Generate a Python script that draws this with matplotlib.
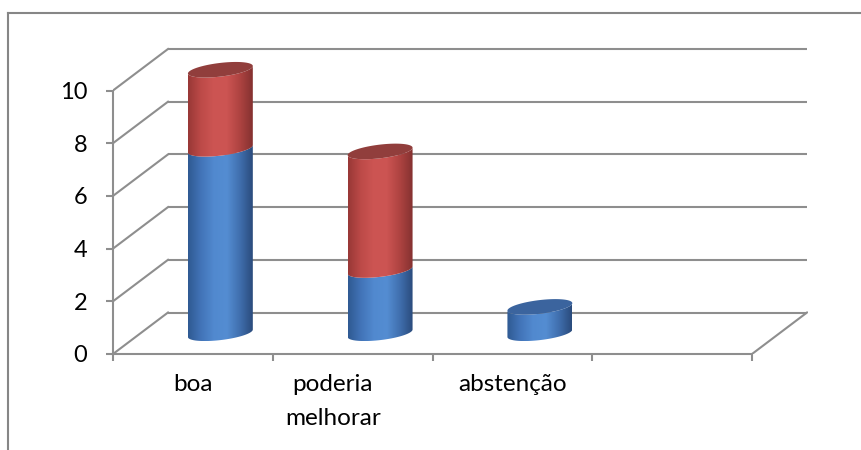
import numpy as np
import matplotlib
matplotlib.use("Agg")
import matplotlib.pyplot as plt
from matplotlib.colors import LinearSegmentedColormap
from matplotlib.patches import Polygon
from matplotlib.lines import Line2D

# data
categories = ["boa", "poderia\nmelhorar", "abstenção", ""]
blue_values = [7, 2.4, 1, 0]
red_values = [3, 4.5, 0, 0]
y_ticks = [0, 2, 4, 6, 8, 10]

W, H, DPI = 861, 450, 100
PX_X, PX_Y = 159.75, 26.35          # pixels per category / per value unit
DEPTH_X, DEPTH_Y = 55 / PX_X, 41.5 / PX_Y   # oblique floor depth (data units)
RAD_A, RAD_S, RAD_H = 28.5 / PX_X, 15.5 / PX_X, 7.8 / PX_Y  # cylinder section

GRID = "#8e8e8e"
blue_cmap = LinearSegmentedColormap.from_list(
    "blue", ["#2f5a92", "#4274b8", "#5189cf", "#548dd2", "#406fae", "#2a4b7c"])
red_cmap = LinearSegmentedColormap.from_list(
    "red", ["#983836", "#bd4a48", "#cd5553", "#cc5452", "#ae4341", "#843130"])
CAP = {"blue": "#3b649e", "red": "#913e3c"}

plt.rcParams["font.family"] = ["Lato", "DejaVu Sans"]

fig = plt.figure(figsize=(W / DPI, H / DPI), dpi=DPI)
ax = fig.add_axes([113 / W, (H - 354) / H, 695 / W, 308 / H])
ax.set_facecolor("none")

n = len(categories)

# back wall + side wall gridlines
for v in y_ticks:
    ax.plot([DEPTH_X, n + DEPTH_X], [v + DEPTH_Y, v + DEPTH_Y], color=GRID,
            lw=1.5, zorder=1, solid_capstyle="butt")
    ax.plot([0, DEPTH_X], [v, v + DEPTH_Y], color=GRID, lw=1.5, zorder=1)
# right edge of the floor
ax.plot([n, n + DEPTH_X], [0, DEPTH_Y], color=GRID, lw=1.5, zorder=1)

t_r = np.arctan2(RAD_S, RAD_A)
half_w = np.hypot(RAD_A, RAD_S)


def arc(cx, cy, t0, t1, num=80):
    t = np.linspace(t0, t1, num)
    return np.column_stack([cx + RAD_A * np.cos(t) + RAD_S * np.sin(t),
                            cy + RAD_H * np.sin(t)])


def body(cx, y0, y1, cmap):
    pts = np.vstack([arc(cx, y0, t_r - np.pi, t_r), arc(cx, y1, t_r, t_r - np.pi)])
    poly = Polygon(pts, closed=True, facecolor="none", edgecolor="none")
    ax.add_patch(poly)
    grad = np.linspace(0, 1, 256)[None, :]
    im = ax.imshow(grad, cmap=cmap, aspect="auto", origin="lower", zorder=3,
                   extent=(cx - half_w, cx + half_w, y0 - RAD_H, y1 + RAD_H))
    im.set_clip_path(poly)


def cap(cx, y, color):
    ax.add_patch(Polygon(arc(cx, y, 0, 2 * np.pi, 120), closed=True,
                         facecolor=color, edgecolor="none", zorder=4))


for i, (b, r) in enumerate(zip(blue_values, red_values)):
    cx = i + 0.5 + DEPTH_X / 2
    base = DEPTH_Y / 2
    top_color = None
    if b > 0:
        body(cx, base, base + b, blue_cmap)
        top_color = "blue"
    if r > 0:
        body(cx, base + b, base + b + r, red_cmap)
        top_color = "red"
    if top_color:
        cap(cx, base + b + r, CAP[top_color])

ax.set_xlim(0, 695 / PX_X)
ax.set_ylim(0, 308 / PX_Y)

# axes lines
for side in ("top", "right"):
    ax.spines[side].set_visible(False)
for side in ("left", "bottom"):
    ax.spines[side].set_color(GRID)
    ax.spines[side].set_linewidth(1.5)
    ax.spines[side].set_zorder(2)
ax.spines["left"].set_bounds(0, max(y_ticks))
ax.spines["bottom"].set_bounds(0, n)

ax.set_yticks(y_ticks)
ax.set_yticklabels([str(v) for v in y_ticks], fontsize=17)
ax.set_xticks(range(n + 1))
ax.set_xticklabels([])
ax.tick_params(axis="both", length=5, width=1.5, color=GRID)
ax.tick_params(axis="y", pad=13.5)

label_shift = [0, -0.125, 0, 0]
for i, name in enumerate(categories):
    ax.text(i + 0.5 + label_shift[i], -0.75, name, ha="center", va="top",
            fontsize=17.5, linespacing=1.75, clip_on=False)

# chart area border (clipped at right / bottom in the original)
fig.add_artist(Line2D([7.5 / W, 7.5 / W], [0, (H - 13) / H], color="#868686", lw=1.5))
fig.add_artist(Line2D([7.5 / W, 1], [(H - 13) / H, (H - 13) / H], color="#868686", lw=1.5))

fig.savefig("out.png", dpi=DPI)
